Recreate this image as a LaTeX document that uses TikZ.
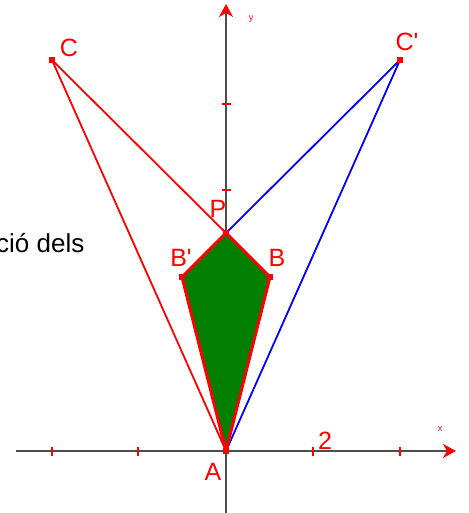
\documentclass[tikz,border=0pt]{standalone}
\usepackage{fontspec}
\setmainfont{Liberation Sans}
\usetikzlibrary{arrows.meta}
\definecolor{axisgray}{HTML}{4D4D4D}
\definecolor{polygreen}{HTML}{007F00}
\begin{document}
\begin{tikzpicture}[x=1pt,y=-1pt,
  axisline/.style={draw=axisgray,line width=2pt,-{Stealth[red,length=13pt,width=14pt,inset=4pt]}},
  tickmark/.style={draw=red,line width=1.6pt},
  redseg/.style={draw=red,line width=1.8pt},
  blueseg/.style={draw=blue,line width=1.8pt},
  kite/.style={fill=polygreen,draw=red,line width=3pt,line join=round},
  ptmark/.style={fill=red,draw=none,minimum size=5.5pt,inner sep=0pt,rectangle},
  lbl/.style={text=red,font=\fontsize{25}{25}\selectfont,inner sep=0pt},
  tinylbl/.style={text=red,font=\fontsize{9}{9}\selectfont,inner sep=0pt},
  txt/.style={text=black,font=\fontsize{26}{26}\selectfont,inner sep=0pt,anchor=base west}]
\useasboundingbox (0,0) rectangle (468,513);
% coordinates
\coordinate (A) at (226,451);
\coordinate (B) at (270,277);
\coordinate (Bp) at (182,277);
\coordinate (P) at (226,233);
\coordinate (C) at (52,60);
\coordinate (Cp) at (400,60);
\coordinate (xs) at (16,451);
\coordinate (xe) at (456,451);
\coordinate (ys) at (226,513);
\coordinate (ye) at (226,4);
% axes
\draw[axisline] (xs) -- (xe);
\draw[axisline] (ys) -- (ye);
% ticks
\foreach \t in {52,138,313,400} \draw[tickmark] (\t,447) -- (\t,456);
\foreach \t in {104,190,277,364} \draw[tickmark] (222,\t) -- (231,\t);
% segments
\draw[redseg] (C) -- (P);
\draw[redseg] (C) -- (A);
\draw[blueseg] (Cp) -- (P);
\draw[blueseg] (Cp) -- (A);
% kite polygon
\draw[kite] (A) -- (B) -- (P) -- (Bp) -- cycle;
% point markers
\foreach \p in {A,B,Bp,P,C,Cp} \node[ptmark] (m\p) at (\p) {};
% labels
\node[lbl] (lC) at (69,48) {C};
\node[lbl] (lCp) at (407,42) {C\textquotesingle};
\node[lbl] (lP) at (218,209) {P};
\node[lbl] (lBp) at (181,258) {B\textquotesingle};
\node[lbl] (lB) at (277,258) {B};
\node[lbl] (lA) at (213,472) {A};
\node[lbl] (l2) at (325,441) {2};
\node[tinylbl] (ly) at (251,19) {y};
\node[tinylbl] (lx) at (440,429) {x};
\node[txt] (t) at (-4,252) {ció dels};
\end{tikzpicture}
\end{document}
